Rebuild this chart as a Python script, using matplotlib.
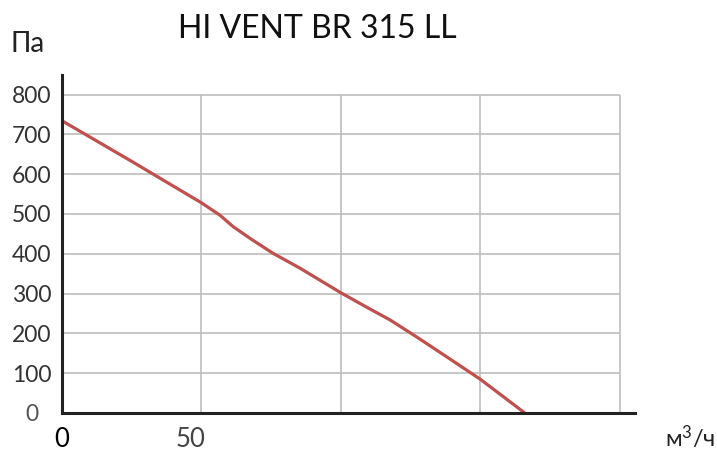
import numpy as np
import matplotlib
matplotlib.use("Agg")
import matplotlib.pyplot as plt
import matplotlib.transforms as mtransforms

plt.rcParams['font.family'] = ['Lato', 'DejaVu Sans']
plt.rcParams['mathtext.fontset'] = 'custom'
plt.rcParams['mathtext.rm'] = 'Lato'
plt.rcParams['mathtext.it'] = 'Lato'

# data
flow = [0, 25, 50, 56.6, 61.4, 68, 75.7, 85.3, 100, 110, 117.6, 127, 138, 150, 166]
pressure = [734, 632, 528, 497, 468, 436, 401, 364, 302, 263, 234, 192, 141, 85, 0]

x_grid = [50, 100, 150, 200]
y_ticks = [0, 100, 200, 300, 400, 500, 600, 700, 800]
x_tick_labels = ["0", "50"]

title = "HI VENT BR 315 LL"
y_unit = "Па"
x_unit = r"м$^\mathrm{3}$/ч"

fig = plt.figure(figsize=(7.17, 4.51), dpi=100)
ax = fig.add_axes([0.0865, 0.0843, 0.799, 0.7494])

ax.set_xlim(0, 205.5)
ax.set_ylim(0, 849)

# grid only inside the 0..200 / 0..800 box
ax.hlines(y_ticks[1:], 0, x_grid[-1], color="#bdbdbd", lw=1.2, zorder=1)
ax.vlines(x_grid, 0, y_ticks[-1], color="#bdbdbd", lw=1.2, zorder=1)

ax.plot(flow, pressure, color="#c0504d", lw=2.3, zorder=3, solid_capstyle="butt")

for s in ["top", "right"]:
    ax.spines[s].set_visible(False)
for s in ["left", "bottom"]:
    ax.spines[s].set_color("#222222")
    ax.spines[s].set_linewidth(2.2)
    ax.spines[s].set_zorder(4)

ax.set_yticks(y_ticks)
ax.set_yticklabels([str(v) for v in y_ticks], fontsize=16.5, color="#333333", ha="center")
ax.tick_params(axis="y", length=0, pad=22)
ax.get_yticklabels()[0].set_color("#555555")

ax.set_xticks([0, 50])
ax.set_xticklabels(x_tick_labels, fontsize=18.5, color="#444444")
ax.tick_params(axis="x", length=0, pad=10)
xl = ax.get_xticklabels()
xl[0].set_color("black")
# the "50" sits a bit left of its gridline in the original
shift = mtransforms.ScaledTranslation(-11 / 100, 0, fig.dpi_scale_trans)
xl[1].set_transform(xl[1].get_transform() + shift)

fig.text(0.443, 0.936, title, fontsize=23, ha="center", va="center", color="#111111")
fig.text(0.015, 0.885, y_unit, fontsize=20, ha="left", va="baseline", color="#222222")
fig.text(0.997, 0.009, x_unit, fontsize=17, ha="right", va="baseline", color="#222222")

fig.savefig("out.png", dpi=100)
